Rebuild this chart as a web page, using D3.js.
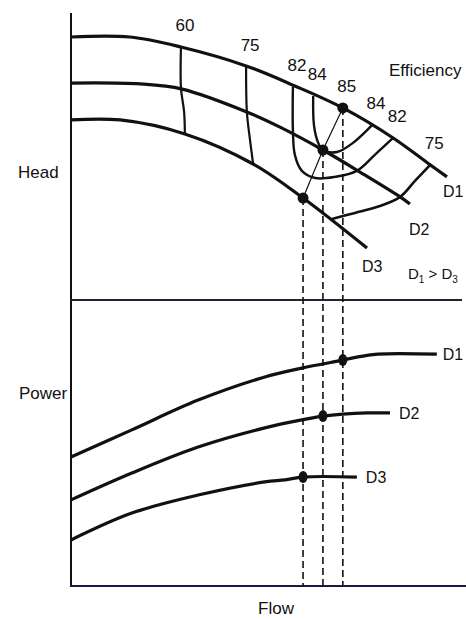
<!DOCTYPE html>
<html><head><meta charset="utf-8">
<script src="https://cdn.jsdelivr.net/npm/d3@7"></script>
<style>
html,body{margin:0;padding:0;background:#fff;}
svg{display:block;}
text{font-family:"Liberation Sans",Arial,sans-serif;fill:#111;font-size:17px;}
text.dlab{font-size:16px;}
</style></head><body>
<svg id="chart" width="466" height="619"></svg>
<script>
// Pump characteristics for three impeller diameters (flow, head, power in % of scale)
const diameters = ["D1", "D2", "D3"];

// Head curves
const headFlowD1 = [0, 15.1, 28.2, 44.9, 57.4, 69.7, 82.6, 92.1, 96.4];
const headD1     = [91.6, 91.6, 88.1, 81.5, 74.5, 66.8, 56.3, 46.9, 42.7];
const headFlowD2 = [0, 17.7, 28.5, 45.1, 53.6, 64.6, 74.1, 84.4, 86.9];
const headD2     = [75.5, 75.2, 73.4, 65.4, 60.1, 52.1, 44.4, 35.7, 33.2];
const headFlowD3 = [0, 12.6, 29.2, 46.7, 59.5, 75.9];
const headD3     = [62.6, 62.6, 57.7, 47.2, 35.3, 17.8];

// Power curves
const powFlowD1 = [0, 15.6, 32.6, 49.7, 59.2, 69.7, 73.6, 78.7, 93.8];
const powD1     = [45.1, 54.6, 65.0, 73.1, 76.2, 79.0, 80.1, 81.1, 81.1];
const powFlowD2 = [0, 15.6, 32.6, 49.7, 59.2, 64.6, 69.7, 75.9, 81.8];
const powD2     = [30.1, 39.5, 48.6, 55.3, 58.1, 59.4, 60.1, 60.5, 60.5];
const powFlowD3 = [0, 15.6, 32.6, 49.7, 54.9, 59.5, 73.3];
const powD3     = [16.1, 25.5, 31.8, 36.4, 37.1, 38.1, 38.1];

// Best efficiency points
const bepFlow  = [69.7, 64.6, 59.5];
const bepHead  = [66.8, 52.1, 35.3];
const bepPower = [79.0, 59.4, 38.1];

// Iso-efficiency lines (%)
const eff60Flow  = [28.2, 28.2, 29.0, 29.2];
const eff60Head  = [88.1, 73.8, 65.4, 57.9];
const eff75LFlow = [44.9, 45.1, 45.9, 46.7];
const eff75LHead = [81.1, 65.4, 55.6, 47.2];
const eff82Flow  = [56.9, 56.9, 57.4, 59.2, 62.6, 67.7, 73.3, 77.9, 82.6];
const eff82Head  = [74.1, 59.1, 50.4, 44.8, 42.3, 42.7, 44.8, 50.4, 56.3];
const eff84Flow  = [62.1, 62.3, 63.3, 64.6, 68.2, 72.3, 77.2];
const eff84Head  = [71.0, 60.8, 54.9, 52.1, 51.4, 54.6, 60.8];
const eff75RFlow = [92.1, 88.2, 84.4, 79.2, 72.8, 66.9];
const eff75RHead = [46.9, 41.3, 35.7, 32.5, 30.1, 28.0];

const effLabels = ["60", "75", "82", "84", "85", "84", "82", "75"];

const zip = (a, b) => a.map((v, i) => [v, b[i]]);

const W = 466, H = 619;
const svg = d3.select("#chart");

const x = d3.scaleLinear().domain([0, 100]).range([71, 461]);
const yHead = d3.scaleLinear().domain([0, 100]).range([299, 13]);
const yPow = d3.scaleLinear().domain([0, 100]).range([586, 300]);

const smooth = d3.curveCatmullRom.alpha(0.5);
const headLine = d3.line().x(d => x(d[0])).y(d => yHead(d[1])).curve(smooth);
const powLine = d3.line().x(d => x(d[0])).y(d => yPow(d[1])).curve(smooth);
const effLine = d3.line().x(d => x(d[0])).y(d => yHead(d[1])).curve(smooth);

// Frame: left axis, panel divider, flow axis
const frame = svg.append("g");
frame.append("line").attr("x1", x(0)).attr("x2", x(0))
  .attr("y1", yHead(100)).attr("y2", yPow(0) + 1)
  .attr("stroke", "#111").attr("stroke-width", 2);
frame.append("line").attr("x1", x(0)).attr("x2", W - 4)
  .attr("y1", yPow(100)).attr("y2", yPow(100))
  .attr("stroke", "#223").attr("stroke-width", 1.8);
frame.append("line").attr("x1", x(0) - 1).attr("x2", W)
  .attr("y1", yPow(0)).attr("y2", yPow(0))
  .attr("stroke", "#1a1a40").attr("stroke-width", 2.2);

// Dashed drop lines from the best efficiency points
svg.append("g").selectAll("line").data(bepFlow).join("line")
  .attr("x1", d => x(d)).attr("x2", d => x(d))
  .attr("y1", (d, i) => yHead(bepHead[i]))
  .attr("y2", yPow(0))
  .attr("stroke", "#111").attr("stroke-width", 1.6)
  .attr("stroke-dasharray", "7,4");

// Iso-efficiency lines
const effSets = [
  [eff60Flow, eff60Head, 2.2],
  [eff75LFlow, eff75LHead, 2.2],
  [eff82Flow, eff82Head, 2.4],
  [eff84Flow, eff84Head, 2.4],
  [eff75RFlow, eff75RHead, 2.6]
];
svg.append("g").selectAll("path").data(effSets).join("path")
  .attr("d", d => effLine(zip(d[0], d[1])))
  .attr("fill", "none").attr("stroke", "#111")
  .attr("stroke-width", d => d[2]).attr("stroke-linejoin", "round");

// Head curves
const headSets = [zip(headFlowD1, headD1), zip(headFlowD2, headD2), zip(headFlowD3, headD3)];
svg.append("g").selectAll("path").data(headSets).join("path")
  .attr("d", headLine).attr("fill", "none")
  .attr("stroke", "#111").attr("stroke-width", 3.2);

// Power curves
const powSets = [zip(powFlowD1, powD1), zip(powFlowD2, powD2), zip(powFlowD3, powD3)];
svg.append("g").selectAll("path").data(powSets).join("path")
  .attr("d", powLine).attr("fill", "none")
  .attr("stroke", "#111").attr("stroke-width", 3.2);

// Locus of best efficiency points
svg.append("path")
  .attr("d", d3.line().x(d => x(d[0])).y(d => yHead(d[1]))(zip(bepFlow, bepHead)))
  .attr("fill", "none").attr("stroke", "#111").attr("stroke-width", 1.2);

// BEP markers
svg.append("g").selectAll("circle").data(bepFlow).join("circle")
  .attr("cx", d => x(d)).attr("cy", (d, i) => yHead(bepHead[i]))
  .attr("r", 5.5).attr("fill", "#111");
svg.append("g").selectAll("ellipse").data(bepFlow).join("ellipse")
  .attr("cx", d => x(d)).attr("cy", (d, i) => yPow(bepPower[i]))
  .attr("rx", 4.5).attr("ry", 6).attr("fill", "#111");

// Efficiency labels placed above where each line meets the top curve
const effAnchors = [
  [eff60Flow[0], eff60Head[0]],
  [eff75LFlow[0], eff75LHead[0]],
  [eff82Flow[0], eff82Head[0]],
  [eff84Flow[0], eff84Head[0]],
  [bepFlow[0], bepHead[0]],
  [eff84Flow[eff84Flow.length - 1], eff84Head[eff84Head.length - 1]],
  [eff82Flow[eff82Flow.length - 1], eff82Head[eff82Head.length - 1]],
  [eff75RFlow[0], eff75RHead[0]]
];
svg.append("g").selectAll("text").data(effLabels).join("text")
  .attr("x", (d, i) => x(effAnchors[i][0]) + 4)
  .attr("y", (d, i) => yHead(effAnchors[i][1]) - 16)
  .attr("text-anchor", "middle")
  .text(d => d);

svg.append("text").attr("x", 389).attr("y", 76).text("Efficiency");

// Curve end labels
const headEnds = headSets.map(s => s[s.length - 1]);
const headLabelOffsets = [[-4, 20], [-1, 31], [-5, 24]];
svg.append("g").selectAll("text").data(diameters).join("text")
  .attr("class", "dlab")
  .attr("x", (d, i) => x(headEnds[i][0]) + headLabelOffsets[i][0])
  .attr("y", (d, i) => yHead(headEnds[i][1]) + headLabelOffsets[i][1])
  .text(d => d);

const powEnds = powSets.map(s => s[s.length - 1]);
svg.append("g").selectAll("text").data(diameters).join("text")
  .attr("class", "dlab")
  .attr("x", (d, i) => x(powEnds[i][0]) + (i === 0 ? 6 : 9))
  .attr("y", (d, i) => yPow(powEnds[i][1]) + 6)
  .text(d => d);

// Diameter ordering note
const note = svg.append("text").attr("x", 408).attr("y", 279).style("font-size", "15px");
note.append("tspan").text("D");
note.append("tspan").attr("dy", 4).style("font-size", "10px").text("1");
note.append("tspan").attr("dy", -4).text(" > D");
note.append("tspan").attr("dy", 4).style("font-size", "10px").text("3");

// Axis titles
svg.append("text").attr("x", 18).attr("y", 178).text("Head");
svg.append("text").attr("x", 19).attr("y", 399).text("Power");
svg.append("text").attr("x", 276).attr("y", 614).attr("text-anchor", "middle").text("Flow");
</script>
</body></html>
